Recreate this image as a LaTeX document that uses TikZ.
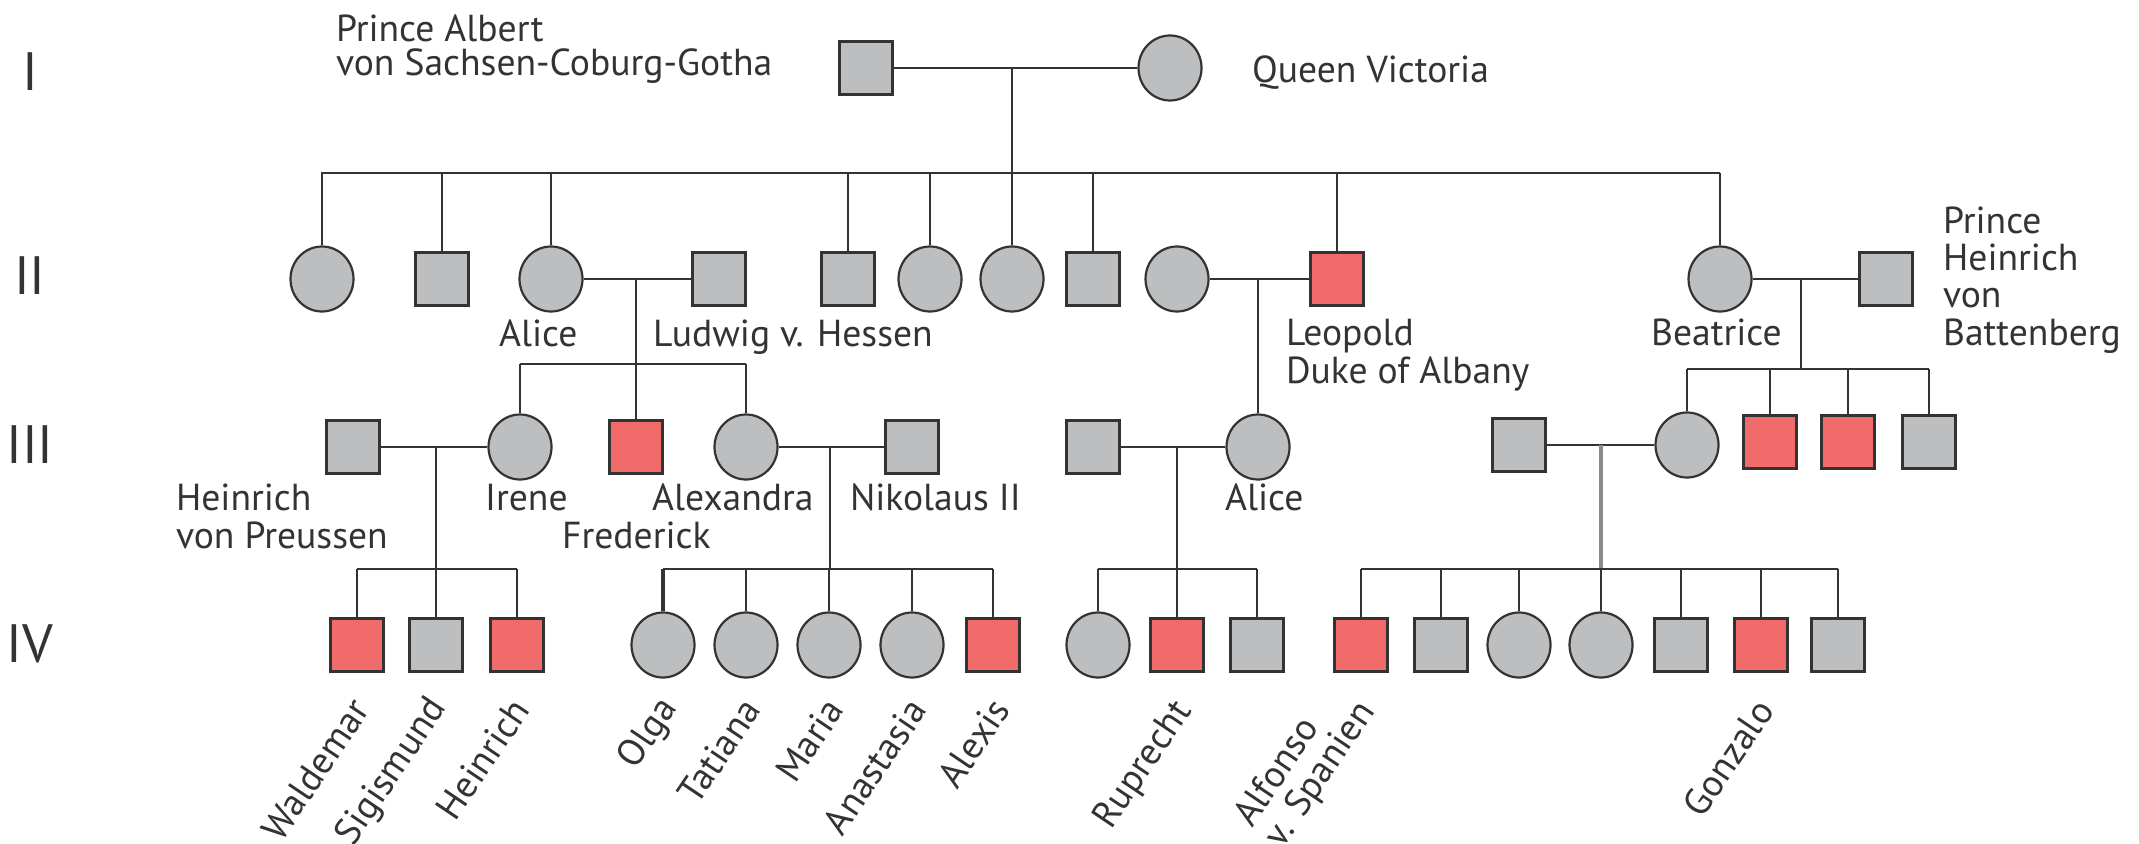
\documentclass[tikz,border=0pt]{standalone}
\usepackage{fontspec}
\setmainfont{PT Sans}
\usetikzlibrary{calc,shapes.geometric}
\definecolor{pedgray}{HTML}{BDBEC0}
\definecolor{pedred}{HTML}{F26B6B}
\definecolor{pedline}{HTML}{333333}
\begin{document}
\begin{tikzpicture}[x=0.5pt,y=-0.5pt,
  line width=1.1pt, draw=pedline,
  person/.style={draw=pedline, fill=pedgray, line width=1.1pt, inner sep=0pt},
  male/.style={person, rectangle, minimum size=26.5pt},
  female/.style={person, ellipse, minimum width=31.5pt, minimum height=32.5pt},
  aff/.style={fill=pedred},
  lbl/.style={font=\fontsize{18.8}{18.5}\selectfont, text=pedline, inner sep=0pt, align=left},
  gen/.style={font=\fontsize{27}{27}\selectfont, text=pedline, inner sep=0pt},
  rot/.style={lbl, rotate=56, anchor=east},
  pale/.style={draw=black!45, line width=1.8pt}
]
\useasboundingbox[fill=white] (0,0) rectangle (2139,844);

% generation numerals
\node[gen] (gI)   at (30,72)  {I};
\node[gen] (gII)  at (30,276) {II};
\node[gen] (gIII) at (30,445) {III};
\node[gen] (gIV)  at (30,644) {IV};

% ---------- generation I ----------
\node[male]   (albert)   at (866,68)  {};
\node[female] (victoria) at (1170,68) {};
\draw (albert) -- (victoria);
\coordinate (mI) at (1012,68);
\coordinate (sII-a) at (321,173);
\coordinate (sII-b) at (1720,173);
\draw (mI) -- (mI |- sII-a);
\draw (sII-a) -- (sII-b);

% multi-line labels sit on the baseline of their last line
\node[lbl, anchor=base west, font=\fontsize{18.8}{17}\selectfont] (tAlbert) at (335,76) {Prince Albert\\von Sachsen-Coburg-Gotha};
\node[lbl, anchor=base west] (tVictoria) at (1251,83) {Queen Victoria};

% ---------- generation II ----------
\node[female] (ii1)      at (322,279)  {};
\node[male]   (ii2)      at (442,279)  {};
\node[female] (alice)    at (551,279)  {};
\node[male]   (ludwig)   at (719,279)  {};
\node[male]   (ii5)      at (848,279)  {};
\node[female] (ii6)      at (930,279)  {};
\node[female] (ii7)      at (1012,279) {};
\node[male]   (ii8)      at (1093,279) {};
\node[female] (helena)   at (1177,279) {};
\node[male, aff] (leopold) at (1337,279) {};
\node[female] (beatrice) at (1720,279) {};
\node[male]   (heinrichB) at (1886,279) {};

\foreach \c in {ii1,ii2,alice,ii5,ii6,ii7,ii8,leopold,beatrice}
  \draw (\c |- sII-a) -- (\c);

\node[lbl, anchor=base west] (tAlice)  at (498,347)  {Alice};
\node[lbl, anchor=base west] (tLudwig) at (652,347)  {Ludwig v. Hessen};
\node[lbl, anchor=base west, font=\fontsize{18.8}{19}\selectfont] (tLeopold) at (1285,383) {Leopold\\Duke of Albany};
\node[lbl, anchor=base west] (tBeatrice) at (1650,345) {Beatrice};
\node[lbl, anchor=base west] (tHeinrichB) at (1942,345) {Prince\\Heinrich\\von\\Battenberg};

% marriages of generation II
\draw (alice) -- (ludwig);
\draw (helena) -- (leopold);
\draw (beatrice) -- (heinrichB);
\coordinate (mAL) at (636,279);
\coordinate (mHL) at (1258,279);
\coordinate (mBH) at (1801,279);

% ---------- generation III ----------
\node[male]   (heinrichP) at (353,447)  {};
\node[female] (irene)     at (520,447)  {};
\node[male, aff] (frederick) at (636,447) {};
\node[female] (alexandra) at (746,447)  {};
\node[male]   (nikolaus)  at (912,447)  {};
\node[male]   (iiiA)      at (1093,447) {};
\node[female] (aliceIII)  at (1258,447) {};
\node[male]   (iiiB)      at (1519,445) {};
\node[female] (iiiC)      at (1687,445) {};
\node[male, aff] (iiiD)   at (1770,442) {};
\node[male, aff] (iiiE)   at (1848,442) {};
\node[male]   (iiiF)      at (1929,442) {};

% descent from Alice and Ludwig
\coordinate (sIII-a) at (520,364);
\coordinate (sIII-b) at (746,364);
\draw (mAL) -- (frederick);
\draw (sIII-a) -- (sIII-b);
\draw (irene |- sIII-a) -- (irene);
\draw (alexandra |- sIII-a) -- (alexandra);

% descent from Leopold
\draw (mHL) -- (aliceIII);

% descent from Beatrice and Heinrich
\coordinate (sIII-c) at (1687,369);
\coordinate (sIII-d) at (1929,369);
\draw (mBH) -- (mBH |- sIII-c);
\draw (sIII-c) -- (sIII-d);
\foreach \c in {iiiC,iiiD,iiiE,iiiF}
  \draw (\c |- sIII-c) -- (\c);

\node[lbl, anchor=base west, font=\fontsize{18.8}{19}\selectfont] (tHeinrichP) at (175,548) {Heinrich\\von Preussen};
\node[lbl, anchor=base west] (tIrene)     at (484,510)  {Irene};
\node[lbl, anchor=base west] (tFrederick) at (561,548)  {Frederick};
\node[lbl, anchor=base west] (tAlexandra) at (651,510)  {Alexandra};
\node[lbl, anchor=base west] (tNikolaus)  at (849,510)  {Nikolaus II};
\node[lbl, anchor=base west] (tAliceIII)  at (1224,510) {Alice};

% marriages of generation III
\draw (heinrichP) -- (irene);
\draw (alexandra) -- (nikolaus);
\draw (iiiA) -- (aliceIII);
\draw (iiiB) -- (iiiC);
\coordinate (mHI) at (436,447);
\coordinate (mAN) at (830,447);
\coordinate (mAA) at (1177,447);
\coordinate (mBC) at (1601,445);

% ---------- generation IV ----------
\node[male, aff] (waldemar)  at (357,645)  {};
\node[male]      (sigismund) at (436,645)  {};
\node[male, aff] (heinrichIV) at (517,645) {};
\node[female]    (olga)      at (663,645)  {};
\node[female]    (tatiana)   at (746,645)  {};
\node[female]    (maria)     at (829,645)  {};
\node[female]    (anastasia) at (912,645)  {};
\node[male, aff] (alexis)    at (993,645)  {};
\node[female]    (ivA)       at (1098,645) {};
\node[male, aff] (ruprecht)  at (1177,645) {};
\node[male]      (ivB)       at (1257,645) {};
\node[male, aff] (alfonso)   at (1361,645) {};
\node[male]      (ivC)       at (1441,645) {};
\node[female]    (ivD)       at (1519,645) {};
\node[female]    (ivE)       at (1601,645) {};
\node[male]      (ivF)       at (1681,645) {};
\node[male, aff] (gonzalo)   at (1761,645) {};
\node[male]      (ivG)       at (1838,645) {};

% sibships of generation IV
\coordinate (sIV-a) at (357,569);  \coordinate (sIV-b) at (517,569);
\coordinate (sIV-c) at (663,569);  \coordinate (sIV-d) at (993,569);
\coordinate (sIV-e) at (1098,569); \coordinate (sIV-f) at (1257,569);
\coordinate (sIV-g) at (1361,569); \coordinate (sIV-h) at (1838,569);

\draw (mHI) -- (mHI |- sIV-a);
\draw (mAN) -- (mAN |- sIV-c);
\draw (mAA) -- (mAA |- sIV-e);
\draw[pale] (mBC) -- (mBC |- sIV-g);

\draw (sIV-a) -- (sIV-b);
\draw (sIV-c) -- (sIV-d);
\draw (sIV-e) -- (sIV-f);
\draw (sIV-g) -- (sIV-h);

\foreach \c in {waldemar,sigismund,heinrichIV,tatiana,maria,anastasia,alexis,
                ivA,ruprecht,ivB,alfonso,ivC,ivD,ivE,ivF,gonzalo,ivG}
  \draw (\c |- sIV-a) -- (\c);
\draw[line width=2.2pt] (olga |- sIV-c) -- (olga);

% names of generation IV
\node[rot] (tWaldemar)  at ($(waldemar)+(4,57)$)  {Waldemar};
\node[rot] (tSigismund) at ($(sigismund)+(4,57)$) {Sigismund};
\node[rot] (tHeinrich)  at ($(heinrichIV)+(4,57)$) {Heinrich};
\node[rot] (tOlga)      at ($(olga)+(8,57)$)      {Olga};
\node[rot] (tTatiana)   at ($(tatiana)+(6,57)$)   {Tatiana};
\node[rot] (tMaria)     at ($(maria)+(6,57)$)     {Maria};
\node[rot] (tAnastasia) at ($(anastasia)+(6,57)$) {Anastasia};
\node[rot] (tAlexis)    at ($(alexis)+(8,57)$)    {Alexis};
\node[rot] (tRuprecht)  at ($(ruprecht)+(8,60)$)  {Ruprecht};
\node[rot, font=\fontsize{18.8}{18.5}\selectfont] (tAlfonso) at ($(alfonso)+(-8,50)$) {Alfonso\\v. Spanien};
\node[rot] (tGonzalo)   at ($(gonzalo)+(4,58)$)    {Gonzalo};
\end{tikzpicture}
\end{document}
